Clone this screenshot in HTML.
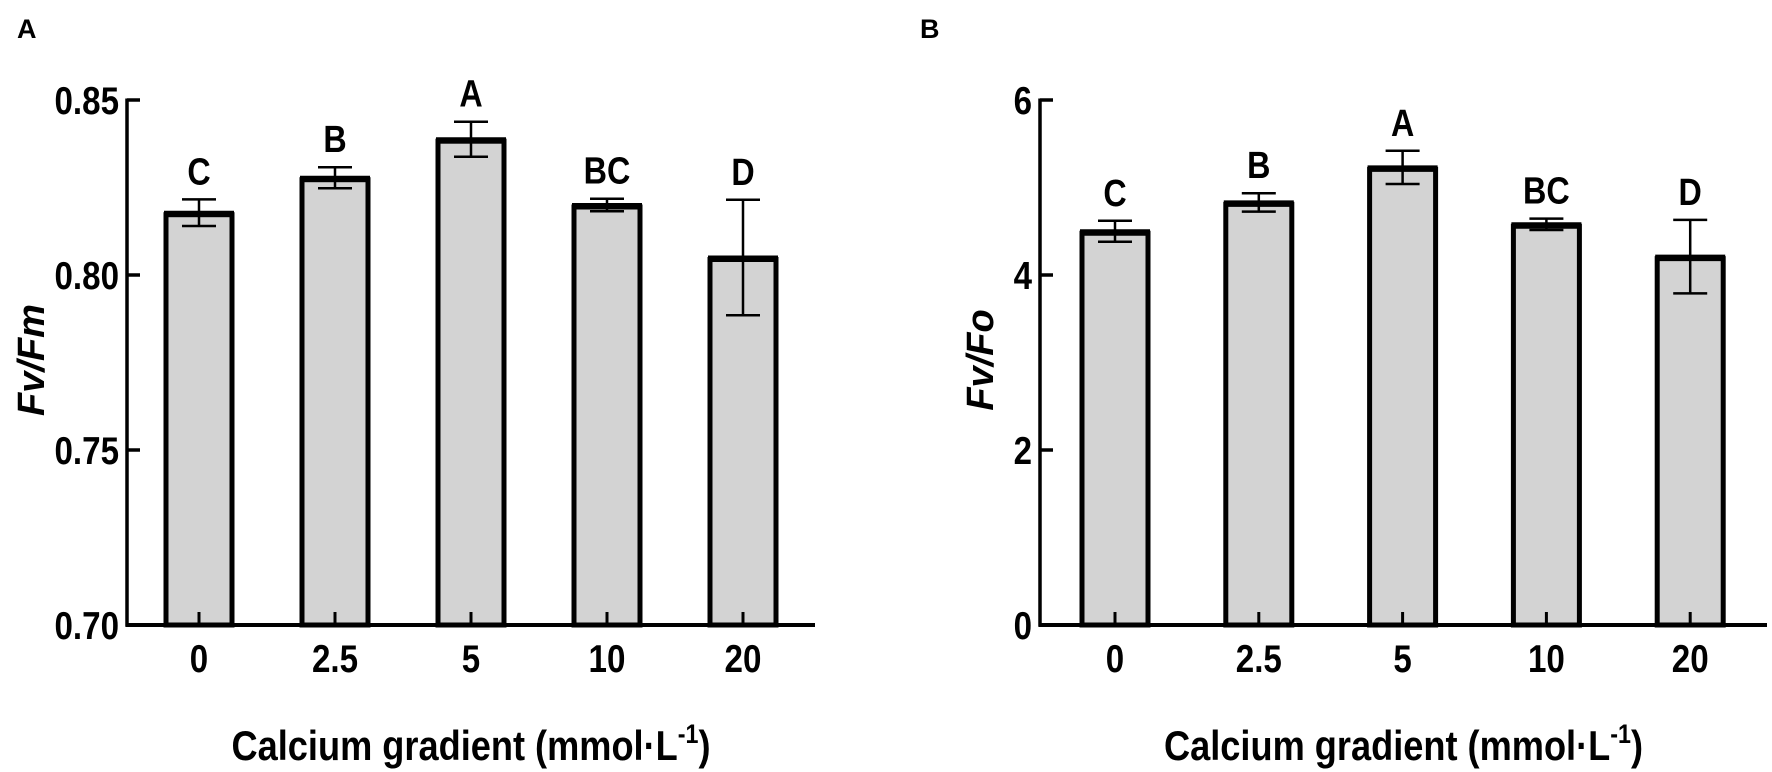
<!DOCTYPE html>
<html><head><meta charset="utf-8"><style>
html,body{margin:0;padding:0;background:#fff;}
svg{display:block;font-family:"Liberation Sans",Arial,sans-serif;font-weight:bold;}
</style></head><body>
<svg id="fig" width="1772" height="772" viewBox="0 0 1772 772" xmlns="http://www.w3.org/2000/svg"></svg>
<script>
const categories = ["0","2.5","5","10","20"];
const fvfmValues = [0.8178, 0.8278, 0.8388, 0.8200, 0.8050];
const fvfmErrors = [0.0038, 0.0030, 0.0050, 0.0018, 0.0165];
const fvfmLetters = ["C","B","A","BC","D"];
const fvfmTicks = ["0.70","0.75","0.80","0.85"];
const fvfoValues = [4.50, 4.83, 5.23, 4.58, 4.21];
const fvfoErrors = [0.12, 0.105, 0.19, 0.065, 0.42];
const fvfoLetters = ["C","B","A","BC","D"];
const fvfoTicks = ["0","2","4","6"];

const NS = "http://www.w3.org/2000/svg";
const svg = document.getElementById("fig");
function mk(tag, attrs, parent){
  const e = document.createElementNS(NS, tag);
  for (const k in attrs) e.setAttribute(k, attrs[k]);
  (parent||svg).appendChild(e);
  return e;
}
function condense(t, f){
  const w = t.getComputedTextLength();
  if (w > 0) { t.setAttribute("textLength", (w * f).toFixed(1)); t.setAttribute("lengthAdjust", "spacingAndGlyphs"); }
}

function panel(cfg){
  const g = mk("g", {});
  
  
  const yTop = 100, yBot = 625;
  const yScale = v => yBot - (v - cfg.min) / (cfg.max - cfg.min) * (yBot - yTop);
  const xScale = i => cfg.x0 + cfg.offset + i * cfg.pitch;

  cfg.values.forEach((v, i) => {
    const cx = xScale(i), w = 70;
    const top = yScale(v);
    const bar = mk("rect", {x: cx - w/2 + 2, y: top + 2, width: w - 4, height: yBot - top - 2, fill: "#d3d3d3", stroke: "#000", "stroke-width": 5}, g);
    
    
    const topLine = mk("line", {x1: cx - w/2, x2: cx + w/2, y1: top + 1, y2: top + 1, stroke: "#000", "stroke-width": 6}, g);
    
    
    const e = cfg.errors[i];
    const yHi = yScale(v + e), yLo = yScale(v - e);
    const eg = mk("g", {stroke: "#000", "stroke-width": 2.5}, g);
    
    
    mk("line", {x1: cx, x2: cx, y1: yHi, y2: yLo}, eg);
    mk("line", {x1: cx - 17, x2: cx + 17, y1: yHi, y2: yHi}, eg);
    mk("line", {x1: cx - 17, x2: cx + 17, y1: yLo, y2: yLo}, eg);
    const xt = mk("line", {x1: cx, x2: cx, y1: yBot, y2: yBot - 13, stroke: "#000", "stroke-width": 3}, g);
    
    
    const lt = mk("text", {x: cx, y: yHi - 15, "text-anchor": "middle", "font-size": 38}, g);
    lt.textContent = cfg.letters[i];
    
    
    condense(lt, 0.85);
    const xl = mk("text", {x: cx, y: 672, "text-anchor": "middle", "font-size": 39}, g);
    xl.textContent = categories[i];
    
    
    condense(xl, 0.85);
  });

  const ya = mk("line", {x1: cfg.x0, x2: cfg.x0, y1: yTop - 1.5, y2: yBot + 1.5, stroke: "#000", "stroke-width": 3.5}, g);
  
  
  const xa = mk("line", {x1: cfg.x0 - 1.5, x2: cfg.xEnd, y1: yBot, y2: yBot, stroke: "#000", "stroke-width": 4}, g);
  
  

  cfg.ticks.forEach(t => {
    const y = yScale(parseFloat(t));
    const tk = mk("line", {x1: cfg.x0, x2: cfg.x0 + 13, y1: y, y2: y, stroke: "#000", "stroke-width": 3.5}, g);
    
    
    const tl = mk("text", {x: cfg.x0 - 8, y: y + 14, "text-anchor": "end", "font-size": 39}, g);
    tl.textContent = t;
    
    
    condense(tl, 0.85);
  });

  const yt = mk("text", {x: 0, y: 0, "text-anchor": "middle", "font-size": 38, "font-style": "italic", transform: "translate(" + cfg.yTitleX + ",360) rotate(-90)"}, g);
  yt.textContent = cfg.yTitle;
  
  

  const xtt = mk("text", {x: (cfg.x0 + cfg.xEnd) / 2, y: 760, "text-anchor": "middle", "font-size": 42, textLength: 479, lengthAdjust: "spacingAndGlyphs"}, g);
  
  
  xtt.appendChild(document.createTextNode("Calcium gradient (mmol·L"));
  const sup = mk("tspan", {dy: -17, "font-size": 27}, xtt);
  sup.textContent = "-1";
  const close = mk("tspan", {dy: 17}, xtt);
  close.textContent = ")";

  const pl = mk("text", {x: cfg.labelX, y: 38, "font-size": 27}, g);
  pl.textContent = cfg.label;
  
  
}

panel({name: "panel-a-fvfm", x0: 127, xEnd: 815, offset: 72, pitch: 136, min: 0.70, max: 0.85,
  values: fvfmValues, errors: fvfmErrors, letters: fvfmLetters, ticks: fvfmTicks,
  yTitle: "Fv/Fm", yTitleX: 44, label: "A", labelX: 17});
panel({name: "panel-b-fvfo", x0: 1040, xEnd: 1767, offset: 75, pitch: 143.8, min: 0, max: 6,
  values: fvfoValues, errors: fvfoErrors, letters: fvfoLetters, ticks: fvfoTicks,
  yTitle: "Fv/Fo", yTitleX: 993, label: "B", labelX: 920});
</script>
</body></html>
